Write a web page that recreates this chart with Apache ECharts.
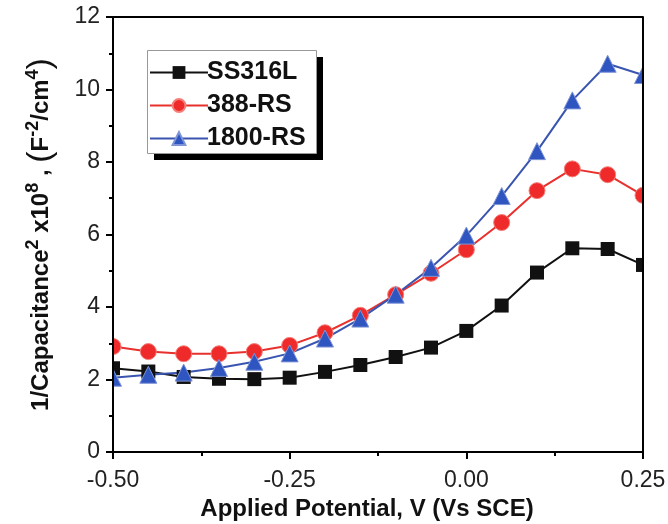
<!DOCTYPE html>
<html><head><meta charset="utf-8">
<script src="https://cdn.jsdelivr.net/npm/echarts@6/dist/echarts.min.js"></script>
<style>html,body{margin:0;padding:0;background:#fff}#c{width:668px;height:524px}</style>
</head><body><div id="c"></div>
<script>
const potentials = [-0.50,-0.45,-0.40,-0.35,-0.30,-0.25,-0.20,-0.15,-0.10,-0.05,0.00,0.05,0.10,0.15,0.20,0.25];
const ss316l = [2.31,2.22,2.07,2.02,2.01,2.05,2.21,2.40,2.62,2.88,3.34,4.04,4.95,5.62,5.60,5.16];
const rs388 = [2.91,2.77,2.71,2.71,2.77,2.94,3.29,3.77,4.34,4.93,5.58,6.33,7.21,7.81,7.65,7.08];
const rs1800 = [2.05,2.13,2.19,2.32,2.49,2.72,3.13,3.68,4.34,5.08,5.97,7.06,8.30,9.70,10.71,10.40];
const seriesNames = ['SS316L','388-RS','1800-RS'];
const xTicks = [-0.5,-0.25,0,0.25];
const yTicks = [0,2,4,6,8,10,12];

const pair = v => potentials.map((x,i)=>[x,v[i]]);
const chart = echarts.init(document.getElementById('c'));
const fontFam = 'Liberation Sans, Arial, sans-serif';
chart.setOption({
  animation:false,
  backgroundColor:'#fff',
  grid:{left:113,right:25,top:17,bottom:72,show:true,borderColor:'#000',borderWidth:2,backgroundColor:'transparent',
        containLabel:false,outerBoundsMode:'none'},
  graphic:[
    {type:'rect',left:0,top:0,z:5,shape:{width:112,height:450},style:{fill:'#fff'}},
    {type:'rect',left:643,top:0,z:5,shape:{width:25,height:450},style:{fill:'#fff'}},
    {type:'rect',left:154,top:57,z:5,shape:{width:169,height:103},style:{fill:'#000'}},
    {type:'rect',left:147,top:50,z:6,shape:{width:169,height:103},style:{fill:'#fff',stroke:'#999',lineWidth:1}}
  ],
  legend:{
    left:149, top:60, orient:'vertical', z:10,
    data:seriesNames,
    itemWidth:58, itemHeight:16, itemGap:8,
    padding:0,
    textStyle:{fontFamily:fontFam,fontSize:25,fontWeight:'bold',color:'#111',padding:[0,0,0,-6]}
  },
  xAxis:{
    type:'value', min:-0.5, max:0.25, interval:0.25, z:10,
    axisLine:{show:true,onZero:false,lineStyle:{color:'#000',width:2}},
    axisTick:{show:true,length:7,lineStyle:{color:'#000',width:2}},
    minorTick:{show:true,splitNumber:2,length:4,lineStyle:{color:'#000',width:2}},
    splitLine:{show:false},
    axisLabel:{formatter:v=>v.toFixed(2),fontFamily:fontFam,fontSize:23,color:'#222',margin:17},
    name:'Applied Potential, V (Vs SCE)', nameLocation:'middle', nameGap:40,
    nameTextStyle:{fontFamily:fontFam,fontSize:24,fontWeight:'bold',color:'#111',padding:[0,22,0,0]}
  },
  yAxis:[{
    type:'value', min:0, max:12, interval:2, z:10,
    axisLine:{show:true,onZero:false,lineStyle:{color:'#000',width:2}},
    axisTick:{show:true,length:7,lineStyle:{color:'#000',width:2}},
    minorTick:{show:true,splitNumber:2,length:4,lineStyle:{color:'#000',width:2}},
    splitLine:{show:false},
    axisLabel:{fontFamily:fontFam,fontSize:23,color:'#222',margin:13},
    name:'1/Capacitance{sup|2} x10{sup|8} , {par|(}F{sup|-2}/cm{sup|4}{par|)}',
    nameLocation:'middle', nameGap:55, nameRotate:90,
    nameTextStyle:{fontFamily:fontFam,fontSize:24,fontWeight:'bold',color:'#111',
      rich:{
        sup:{fontFamily:fontFam,fontSize:18,fontWeight:'bold',color:'#111',verticalAlign:'top',padding:[0,0,14,0]},
        par:{fontFamily:fontFam,fontSize:34,fontWeight:'normal',color:'#111'}
      }}
  },{
    type:'value', min:0, max:12, interval:2, position:'right', z:10,
    axisLine:{show:true,onZero:false,lineStyle:{color:'#000',width:2}},
    axisTick:{show:false}, axisLabel:{show:false}, splitLine:{show:false}
  }],
  series:[
    {name:seriesNames[0],type:'line',data:pair(ss316l),symbol:'rect',symbolSize:14,clip:false,
     lineStyle:{color:'#111',width:2},itemStyle:{color:'#111'}},
    {name:seriesNames[1],type:'line',data:pair(rs388),symbol:'circle',symbolSize:16,clip:false,
     lineStyle:{color:'#e8302c',width:2},itemStyle:{color:'#ee2a2a',borderColor:'#f57f7a',borderWidth:1}},
    {name:seriesNames[2],type:'line',data:pair(rs1800),symbol:'triangle',symbolSize:17,clip:false,
     lineStyle:{color:'#3a55b0',width:2},itemStyle:{color:'#2f55c0',borderColor:'#7f95d6',borderWidth:1}}
  ]
});
</script></body></html>
